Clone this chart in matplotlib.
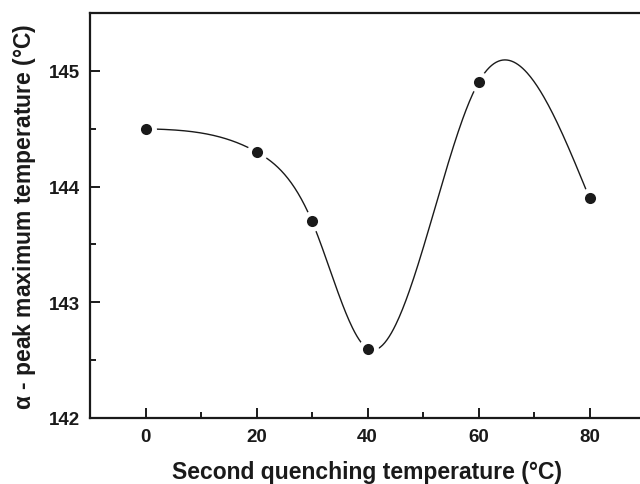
import numpy as np
import matplotlib
matplotlib.use('Agg')
import matplotlib.pyplot as plt
from matplotlib.ticker import MultipleLocator

plt.rcParams['font.family'] = ['Liberation Sans', 'DejaVu Sans']

quench_temp = [0, 20, 30, 40, 60, 80]
peak_temp = [144.5, 144.3, 143.7, 142.6, 144.9, 143.9]


def natural_spline(x, y, n=400):
    # plain natural cubic spline through the points
    x = np.asarray(x, float)
    y = np.asarray(y, float)
    h = np.diff(x)
    m = len(x)
    A = np.zeros((m, m))
    b = np.zeros(m)
    A[0, 0] = A[-1, -1] = 1
    for i in range(1, m - 1):
        A[i, i - 1] = h[i - 1]
        A[i, i] = 2 * (h[i - 1] + h[i])
        A[i, i + 1] = h[i]
        b[i] = 6 * ((y[i + 1] - y[i]) / h[i] - (y[i] - y[i - 1]) / h[i - 1])
    M = np.linalg.solve(A, b)
    xs = np.linspace(x[0], x[-1], n)
    idx = np.clip(np.searchsorted(x, xs) - 1, 0, m - 2)
    x0, x1 = x[idx], x[idx + 1]
    hh = x1 - x0
    t0, t1 = x1 - xs, xs - x0
    ys = (M[idx] * t0**3 + M[idx + 1] * t1**3) / (6 * hh) \
        + (y[idx] / hh - M[idx] * hh / 6) * t0 \
        + (y[idx + 1] / hh - M[idx + 1] * hh / 6) * t1
    return xs, ys


fig = plt.figure(figsize=(6.4, 4.85), dpi=100)
ax = fig.add_axes([90 / 640, 1 - 419 / 485, 555 / 640, 405 / 485])

xs, ys = natural_spline(quench_temp, peak_temp)
ax.plot(xs, ys, color='#1a1a1a', lw=1.0, zorder=2)
ax.plot(quench_temp, peak_temp, 'o', color='#1a1a1a', ms=8,
        mec='white', mew=0, zorder=3)
# white halo so the curve stops short of each dot
ax.plot(quench_temp, peak_temp, 'o', color='white', ms=14, zorder=2.5)

ax.set_xlim(-10, 90)
ax.set_ylim(142, 145.5)
ax.xaxis.set_major_locator(MultipleLocator(20))
ax.xaxis.set_minor_locator(MultipleLocator(10))
ax.yaxis.set_major_locator(MultipleLocator(1))
ax.yaxis.set_minor_locator(MultipleLocator(0.5))

for s in ax.spines.values():
    s.set_linewidth(1.6)
    s.set_color('#1a1a1a')
ax.spines['right'].set_visible(False)

ax.tick_params(which='both', direction='in', top=False, right=False,
               width=1.4, color='#1a1a1a')
ax.tick_params(which='major', length=7, labelsize=13.5, pad=7)
ax.tick_params(which='minor', length=4)
for lab in ax.get_xticklabels() + ax.get_yticklabels():
    lab.set_fontweight('bold')
    lab.set_color('#1a1a1a')

ax.set_xlabel('Second quenching temperature (°C)', fontsize=16.5,
              fontweight='bold', color='#1a1a1a', labelpad=11)
ax.set_ylabel(r'$\mathregular{\alpha}$ - peak maximum temperature (°C)',
              fontsize=16.5, fontweight='bold', color='#1a1a1a', labelpad=8)

fig.savefig('out.png', dpi=100)
